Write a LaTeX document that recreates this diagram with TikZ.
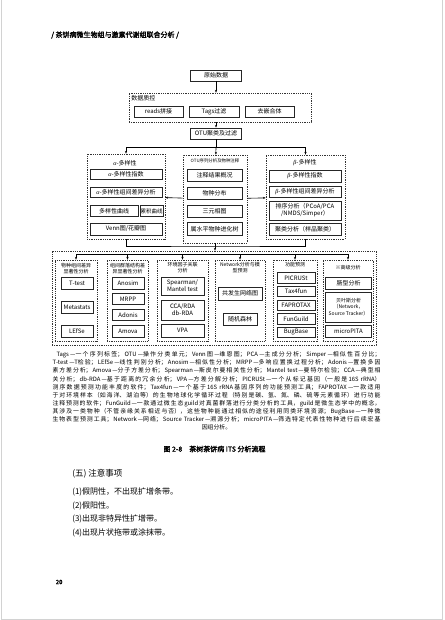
\documentclass[tikz,border=0pt]{standalone}
\usepackage{fontspec}
\setmainfont{Noto Sans CJK SC}[AutoFakeBold=2]
\newfontfamily\greekfont{Liberation Serif}
\usetikzlibrary{positioning, arrows.meta}
\XeTeXlinebreaklocale "zh"
\XeTeXlinebreakskip=0pt plus 1pt minus 0.2pt
\newcommand\boxfont{\fontsize{6}{7}\selectfont}
\newcommand\titlefont{\fontsize{5}{5.9}\selectfont}
\newcommand\notefont{\fontsize{5.9}{8.1}\selectfont}
\newcommand\galpha{{\greekfont\itshape α}}
\newcommand\gbeta{{\greekfont\itshape β}}
\newcommand\nline[1]{\parbox[t]{328pt}{\parfillskip=0pt\parindent=0pt #1\par}}

\begin{document}
\begin{tikzpicture}[x=1pt, y=-1pt, on grid, line width=0.6pt,
    >={Stealth[length=2.8pt, width=2.2pt]},
    box/.style={draw=black!85, line width=0.75pt, inner sep=0.5pt, align=center,
      font=\boxfont, minimum height=11pt},
    grp/.style={draw=black!80, line width=0.6pt, dash pattern=on 0.9pt off 0.9pt, inner sep=0pt},
    grptitle/.style={inner sep=0pt, align=center, font=\titlefont},
    note/.style={inner sep=0pt, align=center, font=\notefont}]

   \useasboundingbox (0,0) rectangle (444,620);
   \draw[gray!35, line width=1pt] (1.5,0) -- (1.5,619) -- (442.5,619) -- (442.5,0);

   \node[anchor=west, inner sep=0pt, font=\fontsize{7}{8}\selectfont\bfseries] (head) at (51,35)
      {/ 茶饼病微生物组与激素代谢组联合分析 /};

   \node[box, minimum width=51pt] (raw) at (216,75.5) {原始数据};
   \node[grp, minimum width=182pt, minimum height=29pt] (qc) at (220,107.5) {};
   \node[grptitle, anchor=north west, font=\boxfont] (qctitle) at (131,95) {数据质控};
   \node[box, minimum width=49pt] (reads) at (158.5,111.5) {reads拼接};
   \node[box, minimum width=50pt] (tags) [right=55.5pt of reads] {Tags过滤};
   \node[box, minimum width=49pt] (chim) [right=55.5pt of tags] {去嵌合体};
   \node[box, minimum width=51pt] (otu) at (216,133.5) {OTU聚类及过滤};

   \coordinate (split) at (216,147);
   \coordinate (merge) at (215,246);

   \node[grp, minimum width=78pt, minimum height=85pt] (alpha) at (126,196.5) {};
   \node[grptitle, font=\boxfont] (alphatitle) at (125,163) {\galpha-多样性};
   \node[box, minimum width=72pt, minimum height=10pt] (a1) at (126,174) {\galpha-多样性指数};
   \node[box, minimum width=72pt, minimum height=10pt] (a2) [below=18.3pt of a1] {\galpha-多样性组间差异分析};
   \node[box, minimum width=48pt] (a3) at (114,211) {多样性曲线};
   \node[box, minimum width=23pt, font=\fontsize{5.5}{6.6}\selectfont] (a4) [right=37.5pt of a3] {累积曲线};
   \node[box, minimum width=72pt, minimum height=12pt] (a5) at (126,229) {Venn图/花瓣图};

   \node[grp, minimum width=64pt, minimum height=88pt] (anno) at (215,199) {};
   \node[grptitle, font=\fontsize{4.4}{5}\selectfont] (annotitle) at (215,161) {OTU序列分析及物种注释};
   \node[box, minimum width=55pt, minimum height=12pt] (c1) at (214.5,175.5) {注释结果概况};
   \node[box, minimum width=55pt, minimum height=12pt] (c2) [below=17.8pt of c1] {物种分布};
   \node[box, minimum width=55pt, minimum height=12pt] (c3) [below=17.8pt of c2] {三元相图};
   \node[box, minimum width=55pt, minimum height=13pt] (c4) [below=17.8pt of c3] {属水平物种进化树};

   \node[grp, minimum width=79pt, minimum height=84pt] (beta) at (305.5,197) {};
   \node[grptitle, font=\boxfont] (betatitle) at (305,163) {\gbeta-多样性};
   \node[box, minimum width=72pt, minimum height=12pt] (b1) at (305,176) {\gbeta-多样性指数};
   \node[box, minimum width=72pt, minimum height=11pt] (b2) at (305,191.5) {\gbeta-多样性组间差异分析};
   \node[box, minimum width=72pt, minimum height=19pt] (b3) at (305,210.5) {排序分析（PCoA/PCA\\/NMDS/Simper）};
   \node[box, minimum width=72pt, minimum height=12pt] (b4) at (305,229) {聚类分析（样品聚类）};

   \node[grp, minimum width=324pt, minimum height=94pt] (bottom) at (214,298) {};
   \coordinate (fan) at (214,254);

   \node[grp, minimum width=42pt, minimum height=81pt] (s1) at (76,300.5) {};
   \node[grp, minimum width=41pt, minimum height=81pt] (s2) at (127.5,300.5) {};
   \node[grp, minimum width=51pt, minimum height=81pt] (s3) at (182.5,300.5) {};
   \node[grp, minimum width=50pt, minimum height=81pt] (s4) at (240,300.5) {};
   \node[grp, minimum width=44pt, minimum height=81pt] (s5) at (295,300.5) {};
   \node[grp, minimum width=50pt, minimum height=81pt] (s6) at (348,300.5) {};

   \node[grptitle] (s1title) at (76,268.5) {物种组间差异\\显著性分析};
   \node[grptitle] (s2title) at (127.5,268.5) {组间群落结构差\\异显著性分析};
   \node[grptitle] (s3title) at (182.5,268) {环境因子关联\\分析};
   \node[grptitle] (s4title) at (240,268) {Network分析与模\\型预测};
   \node[grptitle] (s5title) at (295,265) {功能预测};
   \node[grptitle] (s6title) at (348,268) {※高级分析};

   \node[box, minimum width=32pt, minimum height=12pt] (ttest) at (77,283) {\textit{T}-test};
   \node[box, minimum width=32pt, minimum height=12pt] (meta) [below=24pt of ttest] {Metastats};
   \node[box, minimum width=32pt, minimum height=12pt] (lefse) [below=24pt of meta] {LEfSe};

   \node[box, minimum width=32pt, minimum height=12pt] (anosim) at (128,283) {Anosim};
   \node[box, minimum width=32pt, minimum height=11pt] (mrpp) [below=16pt of anosim] {MRPP};
   \node[box, minimum width=32pt, minimum height=11pt] (adonis) [below=16pt of mrpp] {Adonis};
   \node[box, minimum width=32pt, minimum height=12pt] (amova) [below=16pt of adonis] {Amova};

   \node[box, minimum width=43pt, minimum height=18pt] (spear) at (182.5,286) {Spearman/\\Mantel test};
   \node[box, minimum width=43pt, minimum height=20pt] (cca) at (182.5,310) {CCA/RDA\\db-RDA};
   \node[box, minimum width=43pt, minimum height=13pt] (vpa) at (182.5,330.5) {VPA};

   \node[box, minimum width=44pt, minimum height=13pt] (cooc) at (240,293.5) {共发生网络图};
   \node[box, minimum width=34pt, minimum height=12pt] (forest) at (240,319) {随机森林};

   \node[box, minimum width=38pt, minimum height=10.5pt] (picrust) at (296,278) {PICRUSt};
   \node[box, minimum width=38pt, minimum height=10.5pt] (tax4fun) [below=13.6pt of picrust] {Tax4fun};
   \node[box, minimum width=38pt, minimum height=10.5pt] (faprotax) [below=13.6pt of tax4fun] {FAPROTAX};
   \node[box, minimum width=38pt, minimum height=10.5pt] (funguild) [below=13.6pt of faprotax] {FunGuild};
   \node[box, minimum width=38pt, minimum height=10.5pt] (bugbase) [below=13.6pt of funguild] {BugBase};

   \node[box, minimum width=46pt, minimum height=12pt] (entero) at (348.5,283) {肠型分析};
   \node[box, minimum width=46pt, minimum height=30pt, font=\fontsize{5}{6.3}\selectfont] (bayes) at (348.5,307)
      {贝叶斯分析\\（Network，\\Source Tracker）};
   \node[box, minimum width=46pt, minimum height=12pt] (micropita) at (348.5,331) {microPITA};

   \path[->]
    (raw) edge (raw |- qc.north)
    (qc.south -| otu) edge (otu)
    (split) edge (anno)
    (anno) edge (alpha)
    (anno) edge (beta)
    (merge) edge (merge |- bottom.north);
   \draw (otu) -- (split);
   \draw[->] (split) -| (alpha);
   \draw[->] (split) -| (beta);
   \draw (alpha) |- (merge) -| (beta);
   \draw (anno) -- (merge);

   \draw (s1 |- fan) -- (s6 |- fan);
   \path[->]
    (s1 |- fan) edge (s1)
    (s2 |- fan) edge (s2)
    (s3 |- fan) edge (s3)
    (s4 |- fan) edge (s4)
    (s5 |- fan) edge (s5)
    (s6 |- fan) edge (s6);

   \node[note, anchor=north] (notes) at (216.5,351.5) {%
     \nline{\hspace{4pt}Tags—一个序列标签；OTU—操作分类单元；Venn图—维恩图；PCA—主成分分析；Simper—相似性百分比；}\\
     \nline{\textit{T}-test—\textit{T}检验；LEfSe—线性判别分析；Anosim—相似性分析；MRPP—多响应置换过程分析；Adonis—置换多因}\\
     \nline{素方差分析；Amova—分子方差分析；Spearman—斯皮尔曼相关性分析；Mantel test—曼特尔检验；CCA—典型相}\\
     \nline{关分析；db-RDA—基于距离的冗余分析；VPA—方差分解分析；PICRUSt—一个从标记基因（一般是16S rRNA）}\\
     \nline{测序数据预测功能丰度的软件；Tax4fun—一个基于16S rRNA基因序列的功能预测工具；FAPROTAX—一款适用}\\
     \nline{于对环境样本（如海洋、湖泊等）的生物地球化学循环过程（特别是碳、氢、氮、磷、硫等元素循环）进行功能}\\
     \nline{注释预测的软件；FunGuild—一款通过微生态guild对真菌群落进行分类分析的工具，guild是微生态学中的概念，}\\
     \nline{其涉及一类物种（不管亲缘关系相近与否），这些物种能通过相似的途径利用同类环境资源；BugBase—一种微}\\
     \nline{生物表型预测工具；Network—网络；Source Tracker—溯源分析；microPITA—筛选特定代表性物种进行后续宏基}\\
     因组分析。};

   \node[inner sep=0pt, font=\fontsize{7}{8}\selectfont\bfseries] (caption) at (214.5,449)
      {图 2-8\quad 茶树茶饼病 ITS 分析流程};

   \node[anchor=west, inner sep=0pt, font=\fontsize{8.5}{10}\selectfont] (sect) at (72,474) {(五) 注意事项};
   \node[anchor=west, inner sep=0pt, font=\fontsize{8}{10}\selectfont] (item1) at (72,492) {(1)假阴性，不出现扩增条带。};
   \node[anchor=west, inner sep=0pt, font=\fontsize{8}{10}\selectfont] (item2) at (72,505.5) {(2)假阳性。};
   \node[anchor=west, inner sep=0pt, font=\fontsize{8}{10}\selectfont] (item3) at (72,519) {(3)出现非特异性扩增带。};
   \node[anchor=west, inner sep=0pt, font=\fontsize{8}{10}\selectfont] (item4) at (72,533) {(4)出现片状拖带或涂抹带。};

   \node[anchor=west, inner sep=0pt, font=\fontsize{6}{7}\selectfont\bfseries] (pageno) at (55.5,582) {20};

\end{tikzpicture}
\end{document}
